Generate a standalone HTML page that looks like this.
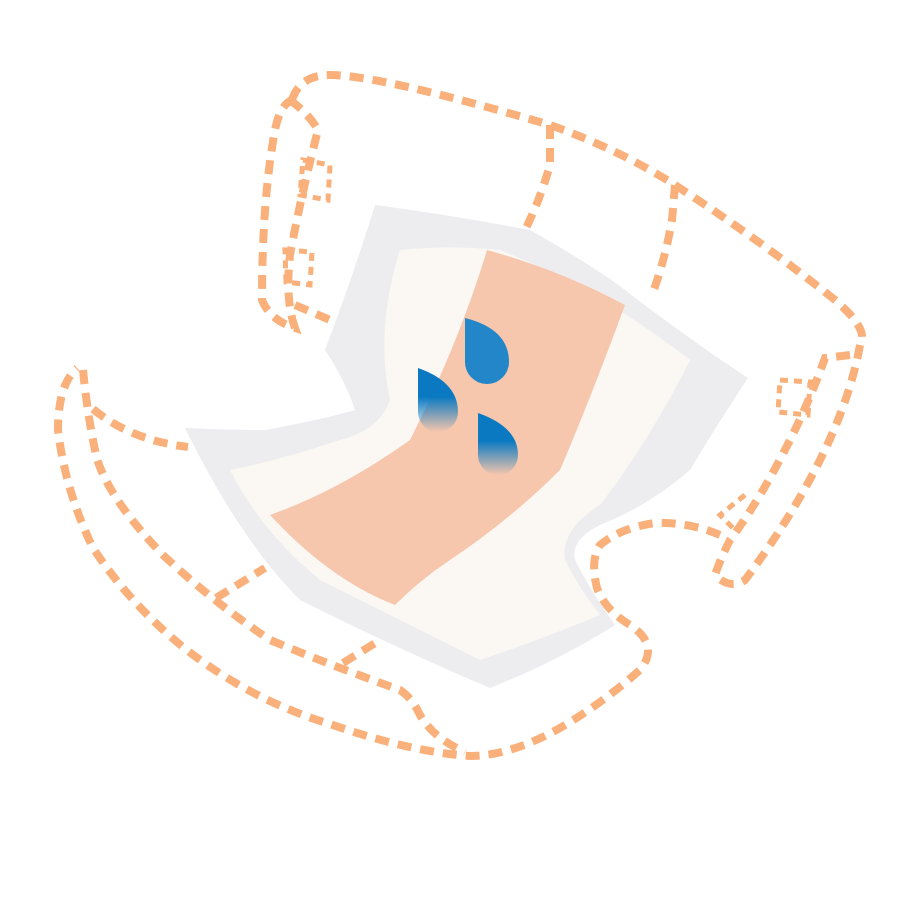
<!DOCTYPE html>
<html><head><meta charset="utf-8"><style>html,body{margin:0;padding:0;background:#fff}svg{display:block}</style></head>
<body>
<svg width="900" height="900" viewBox="0 0 900 900" xmlns="http://www.w3.org/2000/svg">
<defs>
<linearGradient id="dg" x1="0" y1="0" x2="0" y2="1"><stop offset="0.45" stop-color="#0a79c2"/><stop offset="1" stop-color="#0a79c2" stop-opacity="0"/></linearGradient>
</defs>
<g fill="none" stroke="#f9b07a" stroke-width="8" stroke-dasharray="14 9" stroke-linecap="butt">
<!-- top waistband -->
<path d="M292,100 Q300,75 330,75 Q380,75 550,125 Q620,150 675,185 Q760,240 835,300 Q870,330 860,345"/>
<path d="M290,100 Q310,115 318,130 Q300,200 290,255 Q285,300 295,328 Q270,320 262,300 Q262,200 275,130 Q280,105 292,100"/>
<path d="M295,305 L330,320"/>
<path d="M303,160 L330,165 L328,200 L300,195 Z" stroke-width="5" stroke-dasharray="8 6"/>
<path d="M285,250 L312,252 L310,285 L286,282 Z" stroke-width="5" stroke-dasharray="8 6"/>
<path d="M550,125 L550,165 Q540,200 525,230"/>
<path d="M675,185 L672,220 Q665,260 652,295"/>
<!-- right side -->
<path d="M860,345 Q850,400 820,460 Q790,520 745,580 Q730,590 715,575"/>
<path d="M850,355 L825,358 Q810,400 790,440 Q760,500 730,540 Q720,560 715,575"/>
<path d="M780,380 L810,382 L808,415 L778,412 Z" stroke-width="5" stroke-dasharray="8 6"/>
<path d="M745,495 L720,515 L735,530" stroke-width="5" stroke-dasharray="8 6"/>
<!-- bottom outer -->
<path d="M720,535 Q690,522 655,523 Q620,528 600,545 Q590,560 597,588 Q605,610 630,625 Q660,645 640,670 Q600,705 560,728 Q510,756 470,756 Q410,752 330,724 Q250,700 183,647 Q130,604 93,548 Q65,490 58,430 Q58,385 77,368"/>
<!-- bottom inner -->
<path d="M83,370 Q88,420 97,459 Q110,500 163,555 Q212,601 270,640 Q335,667 400,690 Q412,698 420,715 Q433,738 465,752"/>
<path d="M93,409 Q130,440 188,447"/>
<path d="M216,598 L265,568"/>
<path d="M343,663 L380,640"/>
</g>
<!-- pad -->
<path d="M375,205 Q450,215 530,230 Q600,270 625,290 Q690,340 748,378 Q720,420 690,470 Q650,505 600,525 Q570,540 575,560 Q590,590 615,625 Q560,660 490,688 Q400,650 300,600 Q240,540 185,428 Q230,430 265,430 Q320,420 355,410 Q345,380 325,350 Q355,270 375,205 Z" fill="#ededf0"/>
<path d="M400,250 Q450,245 500,250 Q600,290 690,360 Q650,440 600,505 Q560,530 565,560 Q580,590 600,615 Q540,640 480,660 Q400,620 320,580 Q260,530 230,470 Q280,460 340,440 Q380,430 390,400 Q375,330 400,250 Z" fill="#fbf8f4"/>
<path d="M487,250 Q560,270 625,305 Q590,400 560,470 Q510,520 450,560 Q420,580 395,605 Q330,580 270,515 Q340,490 410,440 Q460,340 487,250 Z" fill="#f6c7ad"/>
<!-- drops -->
<path d="M465,318 Q509,329 509,362 A22,22 0 0 1 465,362 Z" fill="#2286c8"/>
<path d="M418,368 Q458,382 458,412 A20,20 0 0 1 418,412 Z" fill="url(#dg)"/>
<path d="M478,413 Q518,427 518,455 A20,20 0 0 1 478,455 Z" fill="url(#dg)"/>
</svg>
</body></html>
